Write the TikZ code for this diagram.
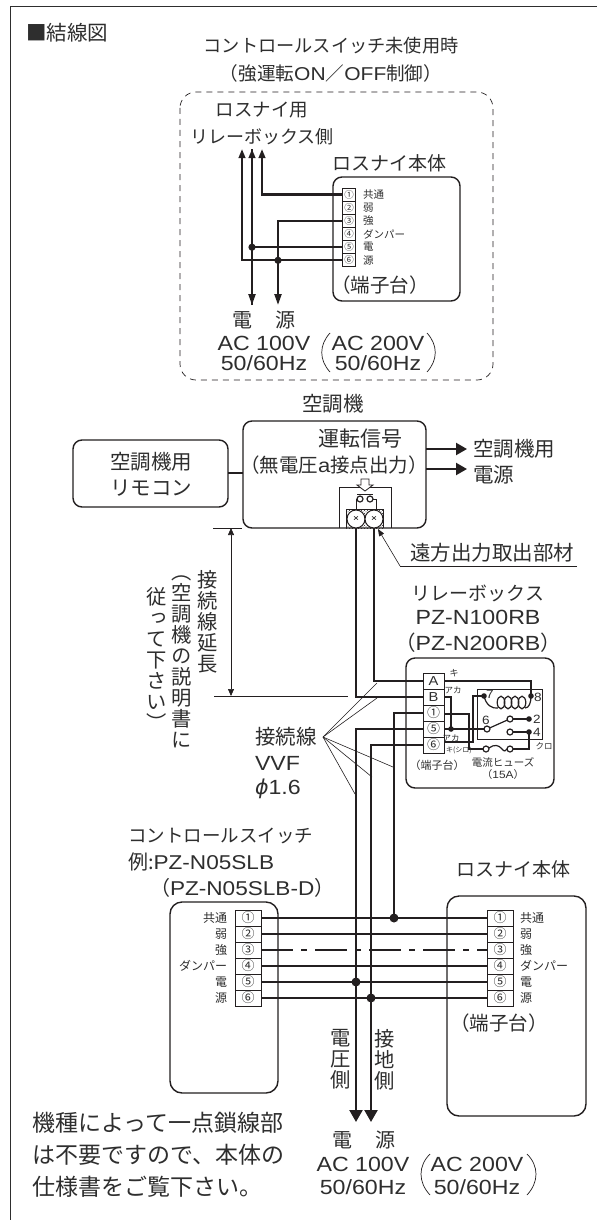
\documentclass[tikz,border=0pt]{standalone}
\usepackage{fontspec}
\setmainfont{Noto Sans CJK JP}
\newfontfamily\la[FakeStretch=1.13]{Liberation Sans}
\newfontfamily\jv[RawFeature={+vert}]{Noto Sans CJK JP}
\newfontfamily\ph{DejaVu Sans}
\usetikzlibrary{arrows.meta,patterns,calc}
\definecolor{ink}{HTML}{231F20}
\definecolor{soft}{HTML}{2E2E2E}
\newcommand\fs[1]{\fontsize{#1}{#1}\selectfont}
\newcommand\termblock[7]{\foreach \n/\tx [count=\k] in {#7}{%
  \pgfmathsetmacro\yy{#3+(\k-0.5)*#5}
  \node[cell,minimum width=#4pt,minimum height=#5pt] (#1\n) at (#2,\yy) {\fs{#6}\tx};}}
\tikzset{
  txt/.style={inner sep=0pt,outer sep=0pt,text=soft},
  vert/.style={txt,anchor=north,align=center,font=\jv\fontsize{20.3}{21}\selectfont},
  stack/.style={txt,anchor=north,align=center,font=\fontsize{20.3}{21}\selectfont},
  cell/.style={draw=ink,line width=1pt,fill=white,inner sep=0pt,outer sep=0pt,text=soft},
  box/.style={draw=ink,line width=1.4pt,rounded corners=9pt},
  wire/.style={draw=ink,line width=2.2pt},
  thin wire/.style={draw=ink,line width=0.7pt},
  thick wire/.style={draw=ink,line width=1.2pt},
  leader/.style={draw=ink,line width=0.6pt},
  dot/.style={fill=ink},
  hollow/.style={draw=ink,line width=0.8pt,fill=white},
  bigtip/.style={-{Triangle[length=12pt,width=13pt]}},
  midtip/.style={-{Triangle[length=11pt,width=12pt]}},
  uptip/.style={-{Triangle[length=9pt,width=6.5pt]}},
  dntip/.style={-{Triangle[length=11pt,width=7pt]}},
  smalltip/.style={-{Triangle[length=7pt,width=5.5pt]}},
}
\begin{document}
\begin{tikzpicture}[x=1pt,y=-1pt]
\useasboundingbox (0,0) rectangle (597,1220);
\fill[white] (0,0) rectangle (597,1220);
\draw[draw=soft,line width=0.9pt] (597,6) -- (10,6) -- (10,1220);

% heading
\node[txt,anchor=west] (head) at (26,33) {\fs{20.5}■結線図};
\node[txt] (t1) at (331,46) {\fs{18.2}コントロールスイッチ未使用時};
\node[txt] (t2) at (331,73) {\fs{18.6}（強運転{\la ON}／{\la OFF}制御）};

% top dashed area
\draw[draw=ink,line width=0.7pt,dash pattern=on 6pt off 5pt,rounded corners=16pt] (180,92) rectangle (493,380);
\node[txt] (t3) at (262,110) {\fs{18.5}ロスナイ用};
\node[txt] (t4) at (262,137) {\fs{18}リレーボックス側};
\node[txt] (t5) at (389,163) {\fs{19}ロスナイ本体};
\draw[box] (333,177) rectangle (460,301);
\node[txt] (t6) at (380,285) {\fs{19.5}（端子台）};
\termblock{a}{349}{188}{12.5}{13.15}{9.5}{1/①,2/②,3/③,4/④,5/⑤,6/⑥}
\foreach \n/\tx in {1/共通,2/弱,3/強,4/ダンパー,5/電,6/源}{
  \node[txt,anchor=west] (al\n) at (363,0 |- a\n.center) {\fs{10.5}\tx};}
\coordinate (up1) at (242,149);
\coordinate (up2) at (252,149);
\coordinate (up3) at (262,149);
\coordinate (dn1) at (252,305);
\coordinate (dn2) at (278,305);
\draw[wire,uptip] (a1.west) -| (up3);
\draw[wire,uptip] (a6.west) -| (up1);
\draw[wire,dntip] (a3.west) -| (dn2);
\draw[wire,uptip] (dn1) -- (up2);
\draw[wire,dntip] (up2) -- (dn1);
\draw[wire] (a5.west) -- (a5.west -| up2);
\fill[dot] (a5.west -| up2) circle[radius=3.6pt];
\fill[dot] (a6.west -| dn2) circle[radius=3.6pt];
\node[txt] (t7) at (242,320) {\fs{20}電};
\node[txt] (t8) at (285,320) {\fs{20}源};
\node[txt] (t9) at (264,343) {\fs{20.5}\la AC 100V};
\node[txt] (t10) at (264,363) {\fs{20.5}\la 50/60Hz};
\node[txt] (t11) at (378,343) {\fs{20.5}\la AC 200V};
\node[txt] (t12) at (378,363) {\fs{20.5}\la 50/60Hz};
\draw[thin wire] (330,333) .. controls (319,345) and (319,360) .. (330,372);
\draw[thin wire] (427,333) .. controls (438,345) and (438,360) .. (427,372);

% air conditioner
\node[txt] (t13) at (333,404) {\fs{20.5}空調機};
\draw[box] (243,421) rectangle (426,528);
\node[txt] (t14) at (360,439) {\fs{21}運転信号};
\node[txt] (t15) at (334,465) {\fs{19.5}（無電圧{\la a}接点出力）};
\coordinate (p1) at (467,449);
\coordinate (p2) at (467,469);
\draw[wire,midtip] (426,449) -- (p1);
\draw[wire,midtip] (426,469) -- (p2);
\node[txt,anchor=west] (t16) at (473,449) {\fs{20.5}空調機用};
\node[txt,anchor=west] (t17) at (473,475) {\fs{20.5}電源};
\draw[box] (73,440) rectangle (228,507);
\node[txt] (t18) at (151,462) {\fs{20.5}空調機用};
\node[txt] (t19) at (151,488) {\fs{20.5}リモコン};
\draw[wire] (228,473) -- (243,473);
% output part
\draw[draw=ink,line width=0.9pt] (339,528) |- (391,487) -- (391,528);
\fill[pattern=crosshatch dots,pattern color=ink] (346,509) rectangle (383,528);
\draw[draw=ink,line width=0.9pt] (346,528) |- (383,509) -- (383,528);
\node[draw=ink,line width=1pt,fill=white,circle,minimum size=18pt,inner sep=0pt,outer sep=0pt] (scL) at (356,519) {\fs{9}\la ×};
\node[draw=ink,line width=1pt,fill=white,circle,minimum size=18pt,inner sep=0pt,outer sep=0pt] (scR) at (374,519) {\fs{9}\la ×};
\draw[hollow] (361,479) -- (369,479) -- (369,485) -- (373,485) -- (365,491) -- (357,485) -- (361,485) -- cycle;
\draw[draw=ink,line width=0.9pt] (357,494) -- (373,494);
\draw[thick wire] (360,499) circle[radius=3pt];
\draw[thick wire] (370,499) circle[radius=3pt];
\draw[thin wire] (357,499) -- (356,499) -- (356,509);
\draw[thin wire] (373,499) -- (376,499) -- (376,509);

% far output
\node[txt] (t20) at (492,553) {\fs{20.5}遠方出力取出部材};
\coordinate (und) at (400,566);
\coordinate (undE) at (577,566);
\coordinate (fo) at (378,529);
\draw[leader] (undE) -- (und);
\draw[leader,smalltip] (und) -- (fo);

% dimension
\coordinate (dmT) at (231,528);
\coordinate (dmB) at (231,696);
\draw[leader] (213,528) -- (242,528);
\draw[leader] (214,696) -- (348,696);
\draw[leader,{Triangle[length=7pt,width=6pt]}-{Triangle[length=7pt,width=6pt]}] (dmT) -- (dmB);
\node[vert] (v1) at (208,570) {接\\続\\線\\延\\長};
\node[vert] (v2) at (182,576) {（\\空\\調\\機\\の\\説\\明\\書\\に};
\node[vert] (v3) at (157,587) {従\\っ\\て\\下\\さ\\い\\）};

% relay box
\node[txt] (t21) at (478,593) {\fs{19}リレーボックス};
\node[txt] (t22) at (478,617) {\fs{20.5}\la PZ-N100RB};
\node[txt] (t23) at (478,643) {\fs{20.5}（{\la PZ-N200RB}）};
\draw[box] (406,658) rectangle (554,788);
\termblock{r}{433.5}{673}{21}{16}{13}{A/\la A,B/\la B,1/①,5/⑤,6/⑥}
\draw[draw=ink,line width=1pt] (477,689) rectangle (542,739);
\coordinate (c7) at (484,696);
\coordinate (c8) at (531,696);
\coordinate (c6) at (487,729);
\coordinate (c2) at (510,719);
\coordinate (c2d) at (529,719);
\coordinate (c4) at (510,732);
\coordinate (c4d) at (529,732);
\coordinate (fl) at (486,749);
\coordinate (fr) at (510,749);
\draw[wire] (scR.south) |- (rA.west);
\draw[wire] (scL.south) |- (rB.west);
\coordinate (c1) at (394,918);
\coordinate (outE) at (356,1122);
\coordinate (outG) at (371,1122);
\draw[wire] (r1.west) -| (c1);
\draw[wire,bigtip] (r5.west) -| (outE);
\draw[wire,bigtip] (r6.west) -| (outG);
% relay inner wiring
\draw[thick wire] (rA.east) -| (c8);
\draw[thick wire] (rB.east) -- (451,697) -- (451,729);
\draw[thick wire] (r5.east) -- ($(c6)+(-3,0)$);
\fill[dot] (451,729) circle[radius=2.8pt];
\draw[thick wire] (444,714) -- (469,714) |- ($(fl)+(-3,0)$);
\draw[thick wire] (444,742) -- (473,742) |- (c7);
\fill[dot] (c7) circle[radius=2.8pt];
\fill[dot] (c8) circle[radius=2.8pt];
\fill[dot] (c2d) circle[radius=2.8pt];
\fill[dot] (c4d) circle[radius=2.8pt];
\foreach \c in {c6,c2,c4,fl,fr}{\draw[thick wire] (\c) circle[radius=3pt];}
\draw[thick wire] ($(c6)+(3,-1.2)$) -- ($(c2)+(-3,1.2)$);
\draw[thick wire] ($(c2)+(3,0)$) -- (c2d);
\draw[thick wire] ($(c4)+(3,0)$) -- (c4d);
\draw[thick wire] (c4d) |- ($(fr)+(3,0)$);
\draw[thick wire] ($(fl)+(3,-1)$) .. controls (494,744) and (499,745) .. (502,749) .. controls (504,752) and (506,751) .. ($(fr)+(-3,0)$);
% coil
\draw[thick wire] (c7) .. controls (486,705) and (492,709) .. (498,708);
\foreach \xc in {501,508,515,522}{\draw[thick wire] (\xc,702.5) ellipse[x radius=3.8pt,y radius=6.3pt];}
\draw[thick wire] (525,708) .. controls (529,708) and (531,703) .. (c8);
\node[txt] (n7) at (490,694) {\fs{12}\la 7};
\node[txt] (n8) at (538,697) {\fs{12}\la 8};
\node[txt] (n6) at (486,720) {\fs{12}\la 6};
\node[txt] (n2) at (537,719) {\fs{12}\la 2};
\node[txt] (n4) at (537,732) {\fs{12}\la 4};
\node[txt] (r9) at (454,673) {\fs{9}キ};
\node[txt] (r10) at (453,690) {\fs{8.5}アカ};
\node[txt] (r11) at (451,738) {\fs{8.5}アカ};
\node[txt,anchor=west] (r12) at (446,750) {\fs{7}キ(シロ)};
\node[txt] (r13) at (544,746) {\fs{8.5}クロ};
\node[txt] (r14) at (437,765) {\fs{11}（端子台）};
\node[txt] (r15) at (503,762) {\fs{10.5}電流ヒューズ};
\node[txt] (r16) at (503,775) {\fs{10.5}（{\la 15A}）};

% connection-wire label
\node[txt,anchor=west] (k1) at (255,737) {\fs{20.5}接続線};
\node[txt,anchor=west] (k2) at (255,763) {\fs{20.5}\la VVF};
\node[txt,anchor=west] (k3) at (255,789) {\fs{20.5}{\ph\itshape ϕ}{\la 1.6}};
\coordinate (hub) at (323,737);
\foreach \e in {(377,683),(377,698),(393,767),(372,777),(355,794)}{\draw[leader] (hub) -- \e;}

% controller
\node[txt,anchor=west] (k4) at (128,836) {\fs{18.5}コントロールスイッチ};
\node[txt,anchor=west] (k5) at (128,862) {\fs{20}例:{\la PZ-N05SLB}};
\node[txt,anchor=west] (k6) at (150,888) {\fs{20}（{\la PZ-N05SLB-D}）};
\draw[box,rounded corners=12pt] (170,902) rectangle (278,1093);
\termblock{s}{248}{910}{26}{16}{13}{1/①,2/②,3/③,4/④,5/⑤,6/⑥}
\foreach \n/\tx in {1/共通,2/弱,3/強,4/ダンパー,5/電,6/源}{
  \node[txt,anchor=east] (sl\n) at (227,0 |- s\n.center) {\fs{12}\tx};}

% lossnay body
\node[txt] (k7) at (513,869) {\fs{19}ロスナイ本体};
\draw[box,rounded corners=12pt] (447,896) rectangle (586,1116);
\termblock{l}{500}{910}{26}{16}{13}{1/①,2/②,3/③,4/④,5/⑤,6/⑥}
\foreach \n/\tx in {1/共通,2/弱,3/強,4/ダンパー,5/電,6/源}{
  \node[txt,anchor=west] (ll\n) at (520,0 |- l\n.center) {\fs{12}\tx};}
\node[txt] (k8) at (499,1023) {\fs{19.5}（端子台）};

\foreach \n in {1,2,4,5,6}{\draw[wire] (s\n.east) -- (l\n.west);}
\draw[wire,dash pattern=on 32pt off 8pt on 6pt off 8pt] (s3.east) -- (l3.west);
\fill[dot] (c1) circle[radius=4.5pt];
\fill[dot] (s5.east -| outE) circle[radius=4.5pt];
\fill[dot] (s6.east -| outG) circle[radius=4.5pt];

\node[stack] (k9) at (341,1029) {電\\圧\\側};
\node[stack] (k10) at (385,1029) {接\\地\\側};
\node[txt] (k11) at (342,1140) {\fs{20}電};
\node[txt] (k12) at (385,1140) {\fs{20}源};
\node[txt] (k13) at (363,1164) {\fs{20.5}\la AC 100V};
\node[txt] (k14) at (363,1187) {\fs{20.5}\la 50/60Hz};
\node[txt] (k15) at (477,1164) {\fs{20.5}\la AC 200V};
\node[txt] (k16) at (477,1187) {\fs{20.5}\la 50/60Hz};
\draw[thin wire] (430,1154) .. controls (418,1166) and (418,1182) .. (430,1195);
\draw[thin wire] (527,1154) .. controls (539,1166) and (539,1182) .. (527,1195);

% note
\node[txt,anchor=west] (n1) at (32,1123) {\fs{23}機種によって一点鎖線部};
\node[txt,anchor=west] (n3) at (32,1155) {\fs{23}は不要ですので、本体の};
\node[txt,anchor=west] (n5) at (32,1187) {\fs{23}仕様書をご覧下さい。};
\end{tikzpicture}
\end{document}
